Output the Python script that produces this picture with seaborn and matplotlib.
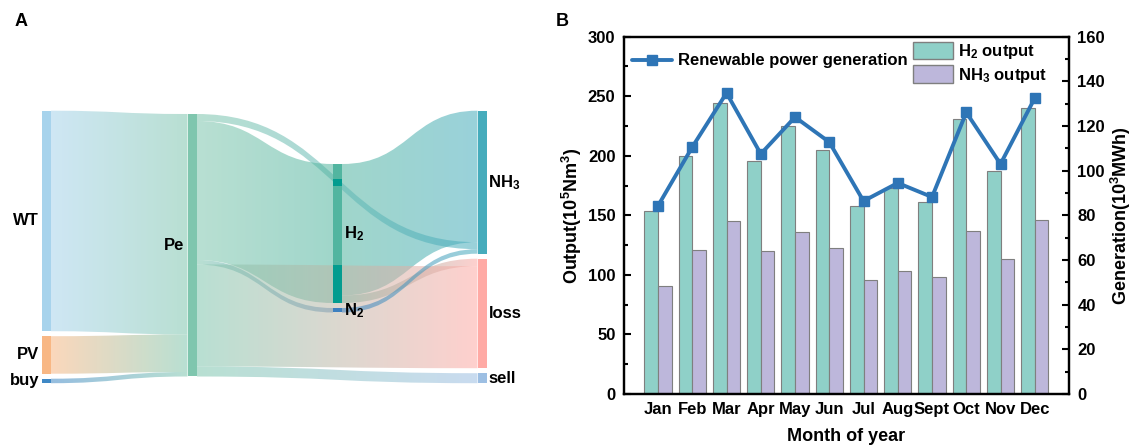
import numpy as np
import pandas as pd
import matplotlib
matplotlib.use('Agg')
import matplotlib.pyplot as plt
import seaborn as sns
from matplotlib.path import Path
from matplotlib.patches import PathPatch, Patch, Rectangle
from matplotlib.lines import Line2D
from matplotlib.colors import to_rgb
from matplotlib.ticker import MultipleLocator

# ---------------- data ----------------
months = ['Jan', 'Feb', 'Mar', 'Apr', 'May', 'Jun', 'Jul', 'Aug', 'Sept', 'Oct', 'Nov', 'Dec']
h2_output = [154, 200, 244, 196, 225, 205, 158, 173, 161, 231, 187, 240]
nh3_output = [91, 121, 145, 120, 136, 123, 96, 103, 98, 137, 113, 146]
power_gen = [84.3, 110.6, 134.8, 107.5, 124.0, 112.8, 86.4, 94.5, 88.2, 126.1, 103.0, 132.5]

sankey_nodes = ['WT', 'PV', 'buy', 'Pe', 'H2', 'N2', 'NH3', 'loss', 'sell']
node_column = [0, 0, 0, 1, 2, 2, 3, 3, 3]
node_labels = ['WT', 'PV', 'buy', 'Pe', 'H$_2$', 'N$_2$', 'NH$_3$', 'loss', 'sell']
flow_source = ['WT', 'PV', 'buy', 'H2', 'H2', 'Pe', 'Pe', 'Pe', 'Pe', 'Pe', 'N2']
flow_target = ['Pe', 'Pe', 'Pe', 'NH3', 'loss', 'NH3', 'H2', 'N2', 'loss', 'sell', 'NH3']
flow_value = [220.5, 37.5, 4.5, 131.5, 7.5, 7.0, 139.0, 4.5, 102.0, 10.0, 4.5]

# ---------------- style ----------------
sns.set_style('ticks')
plt.rcParams['font.family'] = ['Liberation Sans', 'DejaVu Sans']
plt.rcParams['font.weight'] = 'bold'
plt.rcParams['axes.labelweight'] = 'bold'
plt.rcParams['text.color'] = 'black'
plt.rcParams['axes.labelcolor'] = 'black'
plt.rcParams['axes.edgecolor'] = 'black'
plt.rcParams['xtick.color'] = 'black'
plt.rcParams['ytick.color'] = 'black'
plt.rcParams['mathtext.fontset'] = 'custom'
plt.rcParams['mathtext.rm'] = 'Liberation Sans:bold'
plt.rcParams['mathtext.it'] = 'Liberation Sans:bold'
plt.rcParams['mathtext.bf'] = 'Liberation Sans:bold'
plt.rcParams['mathtext.default'] = 'rm'

node_colors = {'WT': '#A7D3EC', 'PV': '#F8B784', 'buy': '#3F88C5', 'Pe': '#7FC6AE',
               'H2': '#52B5A0', 'N2': '#3D80C0', 'NH3': '#46ACBC', 'loss': '#FFAAA5',
               'sell': '#9DBFE3'}
node_overlap_color = {'H2': '#039C8F'}
flow_alpha = 0.55

W, H = 1132, 448
fig = plt.figure(figsize=(W / 100, H / 100), dpi=100)

# ---------------- Sankey (panel A) ----------------
axs = fig.add_axes([0, 0, 560 / W, 1])
axs.set_xlim(0, 560)
axs.set_ylim(H, 0)
axs.axis('off')

col_x = {0: 42.0, 1: 187.5, 2: 333.0, 3: 477.5}
col_top = {0: 110.7, 1: 114.0, 2: 164.0, 3: 110.7}
node_w = 9.0
gap = 5.0
scale = 1.0

v_in = {n: 0.0 for n in sankey_nodes}
v_out = {n: 0.0 for n in sankey_nodes}
for s, t, v in zip(flow_source, flow_target, flow_value):
    v_out[s] += v
    v_in[t] += v
node_size = {n: max(v_in[n], v_out[n]) * scale for n in sankey_nodes}
node_col = dict(zip(sankey_nodes, node_column))
node_y = {}
cursor = dict(col_top)
for n in sankey_nodes:
    c = node_col[n]
    node_y[n] = cursor[c]
    cursor[c] += node_size[n] + gap

out_cur = dict(node_y)
in_cur = dict(node_y)
flows = []
for s, t, v in zip(flow_source, flow_target, flow_value):
    h = v * scale
    y0t = out_cur[s]; out_cur[s] += h
    y1t = in_cur[t]; in_cur[t] += h
    x0 = col_x[node_col[s]] + node_w
    x1 = col_x[node_col[t]]
    flows.append((s, t, x0, x1, y0t, y0t + h, y1t, y1t + h))


def bez(p0, p1, p2, p3, tt):
    return ((1 - tt) ** 3) * p0 + 3 * ((1 - tt) ** 2) * tt * p1 + 3 * (1 - tt) * tt ** 2 * p2 + tt ** 3 * p3


def edge_y_at(x0, x1, ya, yb, xq):
    xm = (x0 + x1) / 2
    tt = np.linspace(0, 1, 400)
    xs = bez(x0, xm, xm, x1, tt)
    ys = bez(ya, ya, yb, yb, tt)
    return np.interp(xq, xs, ys)


for (s, t, x0, x1, y0t, y0b, y1t, y1b) in flows:
    xm = (x0 + x1) / 2
    verts = [(x0, y0t), (xm, y0t), (xm, y1t), (x1, y1t), (x1, y1b),
             (xm, y1b), (xm, y0b), (x0, y0b), (x0, y0t)]
    codes = [Path.MOVETO, Path.CURVE4, Path.CURVE4, Path.CURVE4, Path.LINETO,
             Path.CURVE4, Path.CURVE4, Path.CURVE4, Path.CLOSEPOLY]
    path = Path(verts, codes)
    patch = PathPatch(path, facecolor='none', edgecolor='none', transform=axs.transData)
    axs.add_patch(patch)
    a = np.array(to_rgb(node_colors[s]))
    b = np.array(to_rgb(node_colors[t]))
    tt = np.linspace(0, 1, 256)[:, None]
    rgb = a * (1 - tt) + b * tt
    img = np.concatenate([rgb, np.full((256, 1), flow_alpha)], axis=1)[None, :, :]
    ymin = min(y0t, y1t) - 1
    ymax = max(y0b, y1b) + 1
    im = axs.imshow(img, extent=(x0, x1, ymax, ymin), aspect='auto',
                    interpolation='bilinear', zorder=1)
    im.set_clip_path(patch)

for n, lab in zip(sankey_nodes, node_labels):
    c = node_col[n]
    x = col_x[c]
    y = node_y[n]
    axs.add_patch(Rectangle((x, y), node_w, node_size[n], facecolor=node_colors[n],
                            edgecolor='none', zorder=2))
    # darker where other flows pass over the node
    if n in node_overlap_color:
        xc = x + node_w / 2
        for (s, t, x0, x1, y0t, y0b, y1t, y1b) in flows:
            if x0 < x and x1 > x + node_w:
                ya = edge_y_at(x0, x1, y0t, y1t, xc)
                yb = edge_y_at(x0, x1, y0b, y1b, xc)
                lo = max(ya, y)
                hi = min(yb, y + node_size[n])
                if hi > lo:
                    axs.add_patch(Rectangle((x, lo), node_w, hi - lo,
                                            facecolor=node_overlap_color[n],
                                            edgecolor='none', zorder=3))
    yc = y + node_size[n] / 2
    if c <= 1:
        axs.text(x - 3, yc, lab, ha='right', va='center', fontsize=12, fontweight='bold', zorder=4)
    else:
        axs.text(x + node_w + 2, yc, lab, ha='left', va='center', fontsize=12, fontweight='bold', zorder=4)

# ---------------- Bar + line (panel B) ----------------
ax_l, ax_r, ax_t, ax_b = 623.8, 1069.0, 36.7, 394.0
ax = fig.add_axes([ax_l / W, 1 - ax_b / H, (ax_r - ax_l) / W, (ax_b - ax_t) / H])

df = pd.DataFrame({'Month': months * 2,
                   'Output': h2_output + nh3_output,
                   'Series': ['H2'] * len(months) + ['NH3'] * len(months)})
c_h2, c_nh3 = '#8FD0C8', '#BDB7DB'
sns.barplot(data=df, x='Month', y='Output', hue='Series', order=months,
            palette=[c_h2, c_nh3], saturation=1, width=0.8,
            edgecolor='#7F7F7F', linewidth=0.8, legend=False, ax=ax, zorder=2)
ax.set_xlim(-1, len(months))
ax.set_ylim(0, 300)
ax.yaxis.set_major_locator(MultipleLocator(50))
ax.yaxis.set_minor_locator(MultipleLocator(25))
ax.tick_params(axis='y', which='major', direction='in', length=5, width=1.5, labelsize=12, pad=6)
ax.tick_params(axis='y', which='minor', direction='in', length=3, width=1.5)
ax.tick_params(axis='x', length=0, labelsize=12, pad=6)
for lab in ax.get_xticklabels() + ax.get_yticklabels():
    lab.set_fontweight('bold')
ax.set_xlabel('Month of year', fontsize=13, fontweight='bold', labelpad=8)
ax.set_ylabel('Output(10$^5$Nm$^3$)', fontsize=13, fontweight='bold', labelpad=3)
for sp in ax.spines.values():
    sp.set_linewidth(1.6)
    sp.set_visible(True)
    sp.set_color('black')

ax2 = ax.twinx()
ax2.plot(np.arange(len(months)), power_gen, color='#2E75B6', lw=2.8, marker='s',
         ms=6.5, label='Renewable power generation', zorder=3)
ax2.set_ylim(0, 160)
ax2.yaxis.set_major_locator(MultipleLocator(20))
ax2.yaxis.set_minor_locator(MultipleLocator(10))
ax2.tick_params(axis='y', which='major', direction='in', length=5, width=1.5, labelsize=12, pad=6)
ax2.tick_params(axis='y', which='minor', direction='in', length=3, width=1.5)
for lab in ax2.get_yticklabels():
    lab.set_fontweight('bold')
ax2.set_ylabel('Generation(10$^3$MWh)', fontsize=13, fontweight='bold', labelpad=3)
for sp in ax2.spines.values():
    sp.set_linewidth(1.6)
    sp.set_color('black')

line_handle = Line2D([], [], color='#2E75B6', lw=2.8, marker='s', ms=6.5)
leg1 = ax2.legend(handles=[line_handle], labels=['Renewable power generation'],
                  loc='center left', bbox_to_anchor=(0.018, 0.932), frameon=False,
                  handlelength=2.4, handletextpad=0.4, borderpad=0, borderaxespad=0,
                  prop={'size': 12, 'weight': 'bold'})
ax2.add_artist(leg1)
bar_handles = [Patch(facecolor=c_h2, edgecolor='#7F7F7F', linewidth=1.0),
               Patch(facecolor=c_nh3, edgecolor='#7F7F7F', linewidth=1.0)]
ax2.legend(handles=bar_handles, labels=['H$_2$ output', 'NH$_3$ output'],
           loc='upper left', bbox_to_anchor=(0.65, 0.986), frameon=False,
           handlelength=2.4, handleheight=1.25, handletextpad=0.3, labelspacing=0.25,
           borderpad=0, borderaxespad=0, prop={'size': 12, 'weight': 'bold'})

fig.text(15 / W, 1 - 21 / H, 'A', fontsize=13, fontweight='bold', va='center', ha='left')
fig.text(556 / W, 1 - 21 / H, 'B', fontsize=13, fontweight='bold', va='center', ha='left')

fig.savefig('out.png', dpi=100)
